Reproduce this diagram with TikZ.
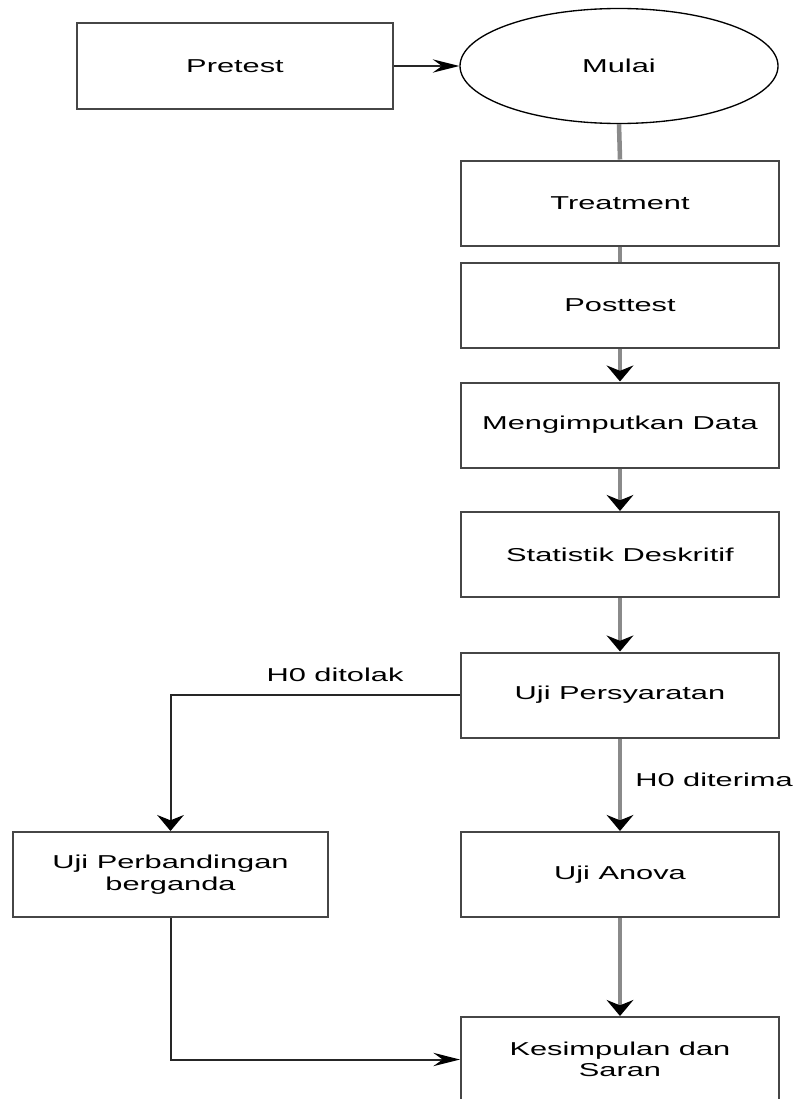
\documentclass[tikz,border=0pt]{standalone}
\usepackage{fontspec}
\setmainfont[FakeStretch=1.65]{Liberation Sans}
\usetikzlibrary{arrows.meta,shapes.geometric}
\definecolor{boxline}{RGB}{70,70,70}
\definecolor{flowgray}{RGB}{138,138,138}
\tikzset{
  boxnode/.style={draw=boxline, line width=1.5pt, fill=white, rectangle,
    minimum width=238.5pt, minimum height=63.75pt, inner sep=0pt, align=center,
    font=\fontsize{14}{16}\selectfont},
  startnode/.style={draw=black, line width=1pt, fill=white, ellipse,
    minimum width=238.5pt, minimum height=86.25pt, inner sep=0pt,
    font=\fontsize{14}{16}\selectfont},
  flowline/.style={draw=flowgray, line width=3.4pt},
  flowarrow/.style={flowline, -{Stealth[length=12pt,width=20pt,inset=4pt,black]}},
  branchline/.style={draw=black!85, line width=1.5pt},
  vtip/.style={branchline, -{Stealth[length=12pt,width=20pt,inset=4pt,black]}},
  htip/.style={branchline, -{Stealth[length=20pt,width=10pt,inset=7pt,black]}},
  lbl/.style={inner sep=0pt, font=\fontsize{14}{16}\selectfont}
}
\begin{document}
\begin{tikzpicture}[x=0.75pt,y=0.75pt,yscale=-1,xscale=1]
\useasboundingbox (0,0) rectangle (798,1099);
\clip (0,0) rectangle (798,1099);

%Shape: Rectangle / Ellipse
\node [boxnode, minimum width=237pt] (pretest) at (235,66) {Pretest};
\node [startnode] (mulai) at (619,66) {Mulai};
\node [boxnode] (treatment) at (620,203) {Treatment};
\node [boxnode] (posttest) at (620,305.5) {Posttest};
\node [boxnode] (input) at (620,425) {Mengimputkan Data};
\node [boxnode] (deskriptif) at (620,554.5) {Statistik Deskritif};
\node [boxnode] (syarat) at (620,695) {Uji Persyaratan};
\node [boxnode] (anova) at (620,874.5) {Uji Anova};
\node [boxnode, minimum width=236pt] (ganda) at (170.5,874.5) {Uji Perbandingan\\berganda};
\node [boxnode] (simpulan) at (620,1059.5) {Kesimpulan dan\\Saran};

%Straight Lines
\draw [htip] (pretest.east) -- (mulai.west);
\draw [flowline] (mulai.south) -- (treatment.north);
\draw [flowline] (treatment.south) -- (posttest.north);
\draw [flowarrow] (posttest.south) -- (input.north);
\draw [flowarrow] (input.south) -- (deskriptif.north);
\draw [flowarrow] (deskriptif.south) -- (syarat.north);
\draw [flowarrow] (syarat.south) -- (anova.north);
\draw [flowarrow] (anova.south) -- (simpulan.north);
\draw [vtip] (syarat.west) -| (ganda.north);
\draw [htip] (ganda.south) |- (simpulan.west);

% Text Node
\node [lbl] (tolak) at (335,675) {H0 ditolak};
\node [lbl] (terima) at (714,780) {H0 diterima};

\end{tikzpicture}
\end{document}
